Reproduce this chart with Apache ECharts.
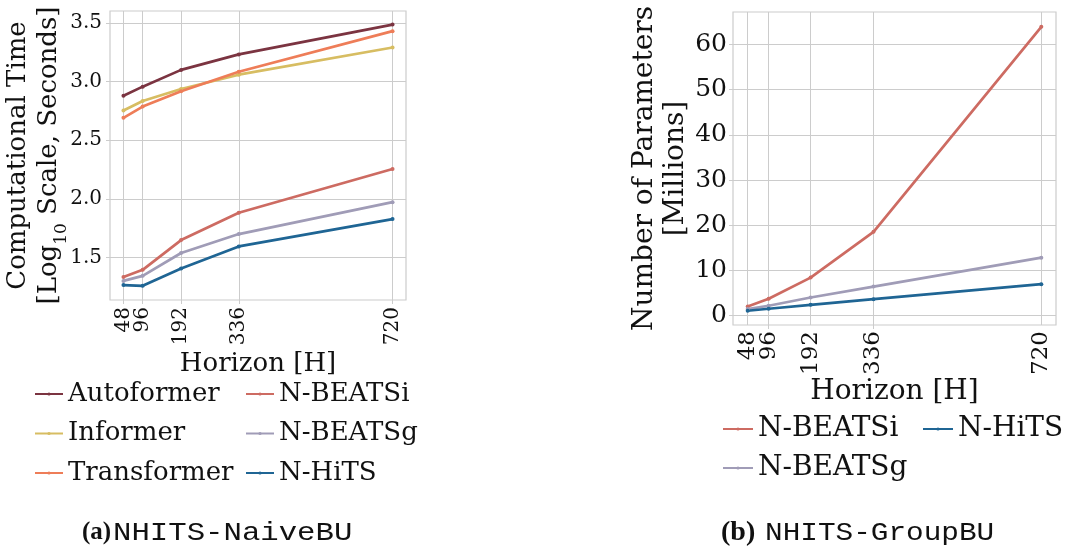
<!DOCTYPE html>
<html>
<head>
<meta charset="utf-8">
<script src="https://cdn.jsdelivr.net/npm/echarts@6/dist/echarts.min.js"></script>
<style>
  html, body { margin: 0; padding: 0; background: #ffffff; }
  #chart { width: 1067px; height: 551px; }
</style>
</head>
<body>
<div id="chart"></div>
<script>
// ---- Data ----
const horizons = [48, 96, 192, 336, 720];

// (a) Computational time, log10 seconds
const autoformerTime  = [2.88, 2.957, 3.10, 3.232, 3.486];
const informerTime    = [2.753, 2.835, 2.937, 3.059, 3.291];
const transformerTime = [2.691, 2.787, 2.918, 3.084, 3.43];
const nbeatsiTime     = [1.335, 1.395, 1.649, 1.882, 2.255];
const nbeatsgTime     = [1.301, 1.344, 1.539, 1.70, 1.972];
const nhitsTime       = [1.265, 1.259, 1.407, 1.595, 1.828];

// (b) Number of parameters, millions
const nbeatsiParams = [2.05, 3.74, 8.43, 18.55, 63.87];
const nbeatsgParams = [1.47, 2.2, 4.03, 6.45, 12.83];
const nhitsParams   = [1.1, 1.54, 2.42, 3.67, 6.97];

const timeTicks  = [1.5, 2.0, 2.5, 3.0, 3.5];
const paramTicks = [0, 10, 20, 30, 40, 50, 60];

// horizon ticks split over two overlaid axes so that close labels are not auto-hidden
const horizonTicksA = horizons.filter((h, i) => i % 2 === 0); // 48, 192, 720
const horizonTicksB = horizons.filter((h, i) => i % 2 === 1); // 96, 336

const colors = {
  'Autoformer': '#7b3441',
  'Informer': '#d7bd62',
  'Transformer': '#ee7d58',
  'N-BEATSi': '#cd6b62',
  'N-BEATSg': '#a09cb7',
  'N-HiTS': '#1f6594'
};

const SERIF = '"DejaVu Serif", serif';
const GRIDC = '#cccccc';
const TXT = '#111111';

function mk(name, vals, gridIdx) {
  return {
    name: name,
    type: 'line',
    xAxisIndex: gridIdx * 2, yAxisIndex: gridIdx,
    data: horizons.map((h, i) => [h, vals[i]]),
    symbol: 'circle', symbolSize: 4,
    showSymbol: true,
    lineStyle: { width: 2.7, color: colors[name] },
    itemStyle: { color: colors[name] },
    emphasis: { disabled: true },
    animation: false,
    z: 3
  };
}

function xAx(gridIdx, ticks, withName, fs, nfs, ngap, lmargin) {
  const ax = {
    gridIndex: gridIdx, type: 'value', min: 14.4, max: 753.6, position: 'bottom', offset: 0,
    axisLine: { show: false },
    axisTick: { show: true, length: 4, inside: false, customValues: ticks, lineStyle: { color: GRIDC } },
    axisLabel: {
      customValues: ticks, rotate: 90, fontSize: fs, fontFamily: SERIF, color: TXT, margin: lmargin,
      hideOverlap: false, showMinLabel: true, showMaxLabel: true
    },
    splitLine: { show: true, showMinLine: true, showMaxLine: true, lineStyle: { color: GRIDC, width: 1 } }
  };
  if (withName) {
    ax.name = 'Horizon [H]';
    ax.nameLocation = 'middle';
    ax.nameGap = ngap;
    ax.nameMoveOverlap = false;
    ax.nameTextStyle = { fontSize: nfs, fontFamily: SERIF, color: TXT };
  }
  return ax;
}

const option = {
  backgroundColor: '#ffffff',
  animation: false,
  grid: [
    { left: 110, top: 11, width: 296, height: 289, show: true, borderColor: GRIDC, borderWidth: 1.2, backgroundColor: 'transparent', containLabel: false, outerBoundsMode: 'none' },
    { left: 733, top: 12, width: 323, height: 313, show: true, borderColor: GRIDC, borderWidth: 1.2, backgroundColor: 'transparent', containLabel: false, outerBoundsMode: 'none' }
  ],
  xAxis: [
    xAx(0, horizonTicksA, true, 20, 26, 51, 7),
    xAx(0, horizonTicksB, false, 20, 26, 51, 7),
    xAx(1, horizonTicksA, true, 23, 28, 53, 6),
    xAx(1, horizonTicksB, false, 23, 28, 53, 6)
  ],
  yAxis: [
    {
      gridIndex: 0, type: 'value', min: 1.138, max: 3.602,
      axisLine: { show: false },
      axisTick: { show: true, length: 4, customValues: timeTicks, lineStyle: { color: GRIDC } },
      axisLabel: { customValues: timeTicks, formatter: v => v.toFixed(1), fontSize: 20, fontFamily: SERIF, color: TXT, margin: 8, showMinLabel: true, showMaxLabel: true },
      splitLine: { show: true, lineStyle: { color: GRIDC, width: 1 } },
      name: 'Computational Time\n[Log{sub|10} Scale, Seconds]',
      nameLocation: 'middle', nameGap: 45, nameRotate: 90, nameMoveOverlap: false,
      nameTextStyle: {
        fontSize: 26, fontFamily: SERIF, color: TXT, lineHeight: 31,
        rich: { sub: { fontSize: 17, fontFamily: SERIF, color: TXT, verticalAlign: 'bottom', lineHeight: 31, padding: [0, 0, -5, 0] } }
      }
    },
    {
      gridIndex: 1, type: 'value', min: -2.05, max: 67.15,
      axisLine: { show: false },
      axisTick: { show: true, length: 4, customValues: paramTicks, lineStyle: { color: GRIDC } },
      axisLabel: { customValues: paramTicks, fontSize: 25, fontFamily: SERIF, color: TXT, margin: 6, showMinLabel: true, showMaxLabel: true },
      splitLine: { show: true, lineStyle: { color: GRIDC, width: 1 } },
      name: 'Number of Parameters\n[Millions]',
      nameLocation: 'middle', nameGap: 42, nameRotate: 90, nameMoveOverlap: false,
      nameTextStyle: { fontSize: 28, fontFamily: SERIF, color: TXT, lineHeight: 31 }
    }
  ],
  legend: [
    {
      orient: 'vertical', left: 34, top: 379, padding: 0, itemWidth: 28, itemHeight: 4, itemGap: 9.5,
      data: ['Autoformer', 'Informer', 'Transformer'],
      textStyle: { fontSize: 26, fontFamily: SERIF, color: TXT, lineHeight: 30 },
      selectedMode: false
    },
    {
      orient: 'vertical', left: 245, top: 379, padding: 0, itemWidth: 28, itemHeight: 4, itemGap: 9.5,
      data: ['N-BEATSi', 'N-BEATSg', 'N-HiTS'],
      textStyle: { fontSize: 26, fontFamily: SERIF, color: TXT, lineHeight: 30 },
      selectedMode: false
    },
    {
      orient: 'vertical', left: 722, top: 412, padding: 0, itemWidth: 30, itemHeight: 4, itemGap: 5,
      data: ['N-BEATSi', 'N-BEATSg'],
      textStyle: { fontSize: 28, fontFamily: SERIF, color: TXT, lineHeight: 34 },
      selectedMode: false
    },
    {
      orient: 'vertical', left: 922, top: 412, padding: 0, itemWidth: 30, itemHeight: 4, itemGap: 5,
      data: ['N-HiTS'],
      textStyle: { fontSize: 28, fontFamily: SERIF, color: TXT, lineHeight: 34 },
      selectedMode: false
    }
  ],
  graphic: [
    { type: 'text', x: 82, y: 533, style: { text: '(a)', font: 'bold 25px "Liberation Serif"', fill: TXT, verticalAlign: 'middle', align: 'left' } },
    { type: 'text', x: 113, y: 533, scaleX: 1.18, style: { text: 'NHITS-NaiveBU', font: '26px "Liberation Mono"', fill: TXT, verticalAlign: 'middle', align: 'left' } },
    { type: 'text', x: 721, y: 533, style: { text: '(b)', font: 'bold 28px "Liberation Serif"', fill: TXT, verticalAlign: 'middle', align: 'left' } },
    { type: 'text', x: 765, y: 533, scaleX: 1.13, style: { text: 'NHITS-GroupBU', font: '26px "Liberation Mono"', fill: TXT, verticalAlign: 'middle', align: 'left' } }
  ],
  series: [
    mk('Autoformer', autoformerTime, 0),
    mk('Informer', informerTime, 0),
    mk('Transformer', transformerTime, 0),
    mk('N-BEATSi', nbeatsiTime, 0),
    mk('N-BEATSg', nbeatsgTime, 0),
    mk('N-HiTS', nhitsTime, 0),
    mk('N-BEATSi', nbeatsiParams, 1),
    mk('N-BEATSg', nbeatsgParams, 1),
    mk('N-HiTS', nhitsParams, 1)
  ]
};

const chart = echarts.init(document.getElementById('chart'), null, { renderer: 'canvas' });
chart.setOption(option);
</script>
</body>
</html>
